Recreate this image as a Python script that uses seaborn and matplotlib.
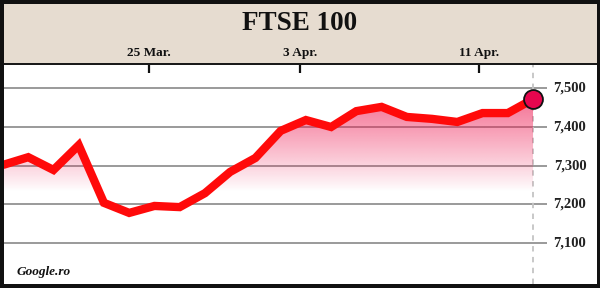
import numpy as np
import pandas as pd
import matplotlib
matplotlib.use("Agg")
import matplotlib.pyplot as plt
from matplotlib.patches import Rectangle
import seaborn as sns

# ---- data ----
dates = ["18 Mar", "19 Mar", "20 Mar", "21 Mar", "22 Mar", "25 Mar", "26 Mar",
         "27 Mar", "28 Mar", "29 Mar", "1 Apr", "2 Apr", "3 Apr", "4 Apr",
         "5 Apr", "8 Apr", "9 Apr", "10 Apr", "11 Apr", "12 Apr", "15 Apr", "16 Apr"]
values = [7302, 7322, 7289, 7353, 7204, 7178, 7196, 7193, 7229, 7284, 7320,
          7390, 7418, 7400, 7441, 7452, 7426, 7421, 7413, 7436, 7436, 7472]
y_ticks = [7100, 7200, 7300, 7400, 7500]
y_tick_labels = ["7,100", "7,200", "7,300", "7,400", "7,500"]
x_tick_labels = ["25 Mar.", "3 Apr.", "11 Apr."]
title = "FTSE 100"
source = "Google.ro"

df = pd.DataFrame({"i": np.arange(len(values)), "date": dates, "value": values})

sns.set_theme(style="white")
plt.rcParams["font.family"] = ["Liberation Serif", "DejaVu Serif"]

W, H = 600, 288
fig = plt.figure(figsize=(W / 100, H / 100), dpi=100)
fig.patch.set_facecolor("white")

def fx(px):
    return px / W

def fy(py):
    return 1 - py / H

# header
fig.patches.append(Rectangle((0, fy(63)), 1, 63 / H, transform=fig.transFigure,
                             facecolor="#e6dcd0", edgecolor="none", zorder=-5))
# separator
fig.patches.append(Rectangle((0, fy(64.5)), 1, 2 / H, transform=fig.transFigure,
                             facecolor="#1a1a1a", edgecolor="none", zorder=5))

# axes area
ax_left, ax_right, ax_top, ax_bottom = 3, 597, 65, 284
ax = fig.add_axes([fx(ax_left), fy(ax_bottom), (ax_right - ax_left) / W,
                   (ax_bottom - ax_top) / H])
ax.set_facecolor("none")
ax.set_zorder(1)
fig.patches.append(Rectangle((fx(ax_left), fy(ax_bottom)), (ax_right - ax_left) / W,
                             (ax_bottom - ax_top) / H, transform=fig.transFigure,
                             facecolor="white", edgecolor="none", zorder=-4))
for s in ax.spines.values():
    s.set_visible(False)

px_per_idx = 25.24
x0_px = 3
xmax = (ax_right - x0_px) / px_per_idx
ppu = 0.387  # px per index point
y_top = 7500 + (88.3 - ax_top) / ppu
y_bot = 7500 - (ax_bottom - 88.3) / ppu
ax.set_xlim(0, xmax)
ax.set_ylim(y_bot, y_top)

# gridlines
grid_end = (547 - x0_px) / px_per_idx
ax.hlines(y_ticks, 0, grid_end, color="#9a9a9a", lw=1.4, zorder=1)

# gradient fill under line
poly = ax.fill_between(df["i"], df["value"], y_bot, facecolor="none",
                       edgecolor="none")
yy = np.linspace(y_bot, y_top, 400)
alpha = np.clip((yy - 7235) / (7490 - 7235), 0, 1) ** 0.9 * 0.66
grad = np.zeros((len(yy), 2, 4))
grad[..., 0] = 238 / 255
grad[..., 1] = 30 / 255
grad[..., 2] = 85 / 255
grad[..., 3] = alpha[:, None]
im = ax.imshow(grad, extent=[0, len(values) - 1, y_bot, y_top], origin="lower",
               aspect="auto", zorder=2, interpolation="bilinear")
im.set_clip_path(poly.get_paths()[0], transform=ax.transData)
ax.set_xlim(0, xmax)
ax.set_ylim(y_bot, y_top)

# vertical dashed line at last point
ax.axvline(len(values) - 1, color="#c4c4c4", lw=1.3, ls=(0, (3, 3)), zorder=1.5)

# main line
sns.lineplot(data=df, x="i", y="value", ax=ax, color="#ff0a0a", lw=6,
             zorder=3, legend=False)
for ln in ax.lines:
    ln.set_solid_joinstyle("miter")
    ln.set_solid_capstyle("butt")

# end marker
sns.scatterplot(data=df.iloc[[-1]], x="i", y="value", ax=ax, s=185,
                color="#e6064e", edgecolor="#111111", linewidth=1.3, zorder=4,
                legend=False)

# x ticks on top (inside header)
tick_pos = [(149 - x0_px) / px_per_idx, (300 - x0_px) / px_per_idx,
            (479 - x0_px) / px_per_idx]
ax.set_xticks(tick_pos)
ax.set_xticklabels(x_tick_labels)
ax.xaxis.set_ticks_position("top")
ax.tick_params(axis="x", direction="in", length=6, width=1.6, color="#111111",
               pad=4, labelsize=9.5, labelcolor="#111111", top=True, bottom=False,
               labeltop=True, labelbottom=False)
for t in ax.get_xticklabels():
    t.set_fontweight("bold")
ax.set_yticks([])
ax.set_xlabel("")
ax.set_ylabel("")

# y labels on the right
label_x = (570 - x0_px) / px_per_idx
for v, lab in zip(y_ticks, y_tick_labels):
    ax.text(label_x, v, lab, ha="center", va="center", fontsize=10.5,
            fontweight="bold", color="#222222", zorder=5)

# title and source
fig.text(0.5, fy(23), title, ha="center", va="center", fontsize=19.5,
         fontweight="bold", color="#111111")
fig.text(fx(17), fy(272), source, ha="left", va="center", fontsize=9.5,
         fontweight="bold", fontstyle="italic", color="#111111")

# outer black border
bw = 3.5
for rect in [(0, 0, bw, H), (W - bw, 0, bw, H), (0, 0, W, 4), (0, H - 4, W, 4)]:
    x, y, w, h = rect
    fig.patches.append(Rectangle((fx(x), fy(y + h)), w / W, h / H,
                                 transform=fig.transFigure, facecolor="#111111",
                                 edgecolor="none", zorder=10))

fig.savefig("out.png", dpi=100)
